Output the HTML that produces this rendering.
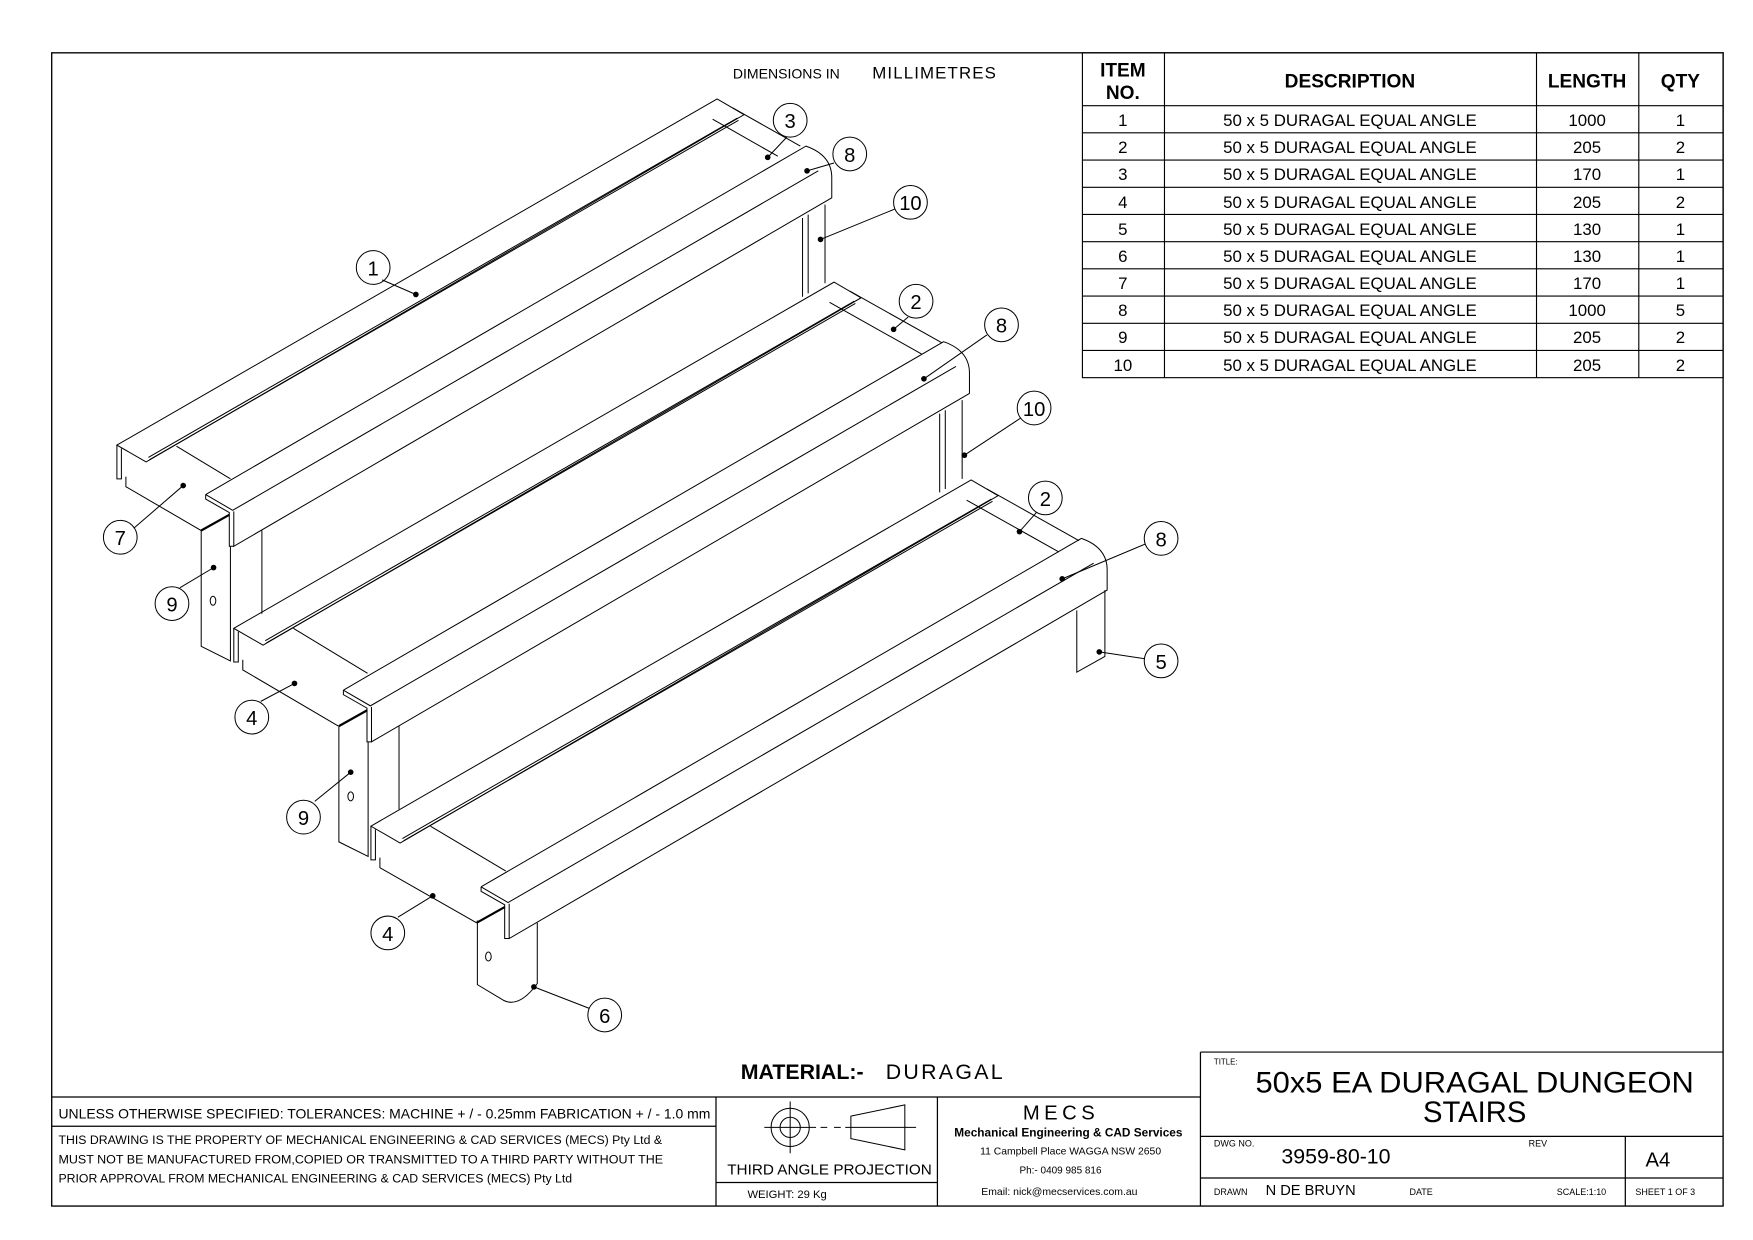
<!DOCTYPE html>
<html><head><meta charset="utf-8"><style>
html,body{margin:0;padding:0;background:#fff;}
svg{display:block;}
text{font-family:"Liberation Sans",sans-serif;fill:#000;}
</style></head><body>
<svg width="1753" height="1240" viewBox="0 0 1559.6 1103.2" xmlns="http://www.w3.org/2000/svg">
<defs>
<g id="front" fill="none" stroke="#000" stroke-width="0.9">
  <path d="M0,0 L534,-310 Q557,-302 557,-282 L557,-264 L25,46 L25,15"/>
  <path d="M0,0 L0,4 L21,16 L21,46 L25,46"/>
  <path d="M0,0 L24,14 L545,-288"/>
  <path d="M-4,32 L21,18" stroke-width="2"/>
</g>
<g id="back" fill="none" stroke="#000" stroke-width="0.9">
  <path d="M0,0 L534,-308 L558,-294 L26,15 Z"/>
  <path d="M0,0 L0,30 L4,30 L4,3"/>
  <path d="M28,11 L552,-291 M29,13 L553,-289"/>
</g>
</defs>
<rect x="46" y="47" width="1487" height="1026" fill="none" stroke="#000" stroke-width="1.2"/>

<text x="652" y="70" font-size="12.5">DIMENSIONS IN</text>
<text x="776" y="70" font-size="15" textLength="110">MILLIMETRES</text>

<g fill="none" stroke="#000" stroke-width="0.9">
  <!-- step 1 -->
  <use href="#back" transform="translate(104,396)"/>
  <path d="M112,424 L112,433 L179,472 M157,397 L205,426 M652,96 L712,130 M634,106 L692,139"/>
  <use href="#front" transform="translate(183,440)"/>
  <path d="M179,472 L179,575 L205,588 L205,486 M233,472 L233,546"/>
  <ellipse cx="189.5" cy="534.5" rx="2.5" ry="4"/>
  <path d="M714,194 L714,264 M719,191 L719,261 M734,182 L734,252"/>
  <!-- step 2 -->
  <use href="#back" transform="translate(208,559)"/>
  <path d="M216,587 L216,596 L301,646 M261,559 L327,599 M756,259 L838,305 M738,269 L820,315"/>
  <use href="#front" transform="translate(305.5,614)"/>
  <path d="M301.5,646 L301.5,749 L327.5,762 L327.5,660 M355,646 L355,720"/>
  <ellipse cx="312" cy="708.5" rx="2.5" ry="4"/>
  <path d="M836,368 L836,438 M841,365 L841,435 M856,356 L856,426"/>
  <!-- step 3 -->
  <use href="#back" transform="translate(330,735)"/>
  <path d="M338,763 L338,772 L424,821 M383,735 L450,775 M878,435 L960,481 M860,445 L942,491"/>
  <use href="#front" transform="translate(428,789)"/>
  <path d="M424.7,819 L424.7,876 L448,890 Q462,897 478,875 L478,821"/>
  <ellipse cx="434.5" cy="851" rx="2.5" ry="4"/>
  <path d="M958,543 L958,598 L983,584 L983,525"/>
</g>
<g fill="none" stroke="#000" stroke-width="0.9">
  <path d="M340,249 L370,262 M700,122 L683,140 M742,145 L718,152 M796,186 L730,213 M808,282 L795,293 M878,298 L822,337 M908,372 L858,405 M922,456 L907,473 M1019,484 L945,515 M1018,586 L978,580 M119,470 L163,432 M160,523 L190,505 M232,624 L262,608 M280,713 L312,687 M354,816 L385,797 M524,897 L475,878"/>
  <circle cx="332" cy="238" r="15"/><circle cx="703" cy="107" r="15"/><circle cx="756" cy="137" r="15"/><circle cx="810" cy="180" r="15"/><circle cx="815" cy="268" r="15"/><circle cx="891" cy="289" r="15"/><circle cx="920" cy="363" r="15"/><circle cx="930" cy="443" r="15"/><circle cx="1033" cy="479" r="15"/><circle cx="1033" cy="588" r="15"/><circle cx="107" cy="478" r="15"/><circle cx="153" cy="537" r="15"/><circle cx="224" cy="638" r="15"/><circle cx="270" cy="727" r="15"/><circle cx="345" cy="830" r="15"/><circle cx="538" cy="903" r="15"/>
</g>
<g fill="#000">
  <circle cx="370" cy="262" r="2.5"/><circle cx="683" cy="140" r="2.5"/><circle cx="718" cy="152" r="2.5"/><circle cx="730" cy="213" r="2.5"/><circle cx="795" cy="293" r="2.5"/><circle cx="822" cy="337" r="2.5"/><circle cx="858" cy="405" r="2.5"/><circle cx="907" cy="473" r="2.5"/><circle cx="945" cy="515" r="2.5"/><circle cx="978" cy="580" r="2.5"/><circle cx="163" cy="432" r="2.5"/><circle cx="190" cy="505" r="2.5"/><circle cx="262" cy="608" r="2.5"/><circle cx="312" cy="687" r="2.5"/><circle cx="385" cy="797" r="2.5"/><circle cx="475" cy="878" r="2.5"/>
</g>
<g font-size="18" text-anchor="middle">
  <text x="332" y="245">1</text><text x="703" y="114">3</text><text x="756" y="144">8</text><text x="810" y="187">10</text><text x="815" y="275">2</text><text x="891" y="296">8</text><text x="920" y="370">10</text><text x="930" y="450">2</text><text x="1033" y="486">8</text><text x="1033" y="595">5</text><text x="107" y="485">7</text><text x="153" y="544">9</text><text x="224" y="645">4</text><text x="270" y="734">9</text><text x="345" y="837">4</text><text x="538" y="910">6</text>
</g>

<g fill="none" stroke="#000" stroke-width="1">
  <rect x="963" y="47" width="570" height="289"/>
  <path d="M1036,47 V336 M1367,47 V336 M1458,47 V336 M963,94 H1533 M963,118.2 H1533 M963,142.4 H1533 M963,166.6 H1533 M963,190.8 H1533 M963,215 H1533 M963,239.2 H1533 M963,263.4 H1533 M963,287.6 H1533 M963,311.8 H1533"/>
</g>
<g font-weight="bold" font-size="17" text-anchor="middle">
  <text x="999" y="68">ITEM</text><text x="999" y="88">NO.</text>
  <text x="1201" y="78">DESCRIPTION</text><text x="1412" y="78">LENGTH</text><text x="1495" y="78">QTY</text>
</g>
<g font-size="15" text-anchor="middle">
  <text x="999" y="112">1</text><text x="999" y="136">2</text><text x="999" y="160">3</text><text x="999" y="185">4</text><text x="999" y="209">5</text><text x="999" y="233">6</text><text x="999" y="257">7</text><text x="999" y="281">8</text><text x="999" y="305">9</text><text x="999" y="330">10</text>
  <text x="1201" y="112">50 x 5 DURAGAL EQUAL ANGLE</text><text x="1201" y="136">50 x 5 DURAGAL EQUAL ANGLE</text><text x="1201" y="160">50 x 5 DURAGAL EQUAL ANGLE</text><text x="1201" y="185">50 x 5 DURAGAL EQUAL ANGLE</text><text x="1201" y="209">50 x 5 DURAGAL EQUAL ANGLE</text><text x="1201" y="233">50 x 5 DURAGAL EQUAL ANGLE</text><text x="1201" y="257">50 x 5 DURAGAL EQUAL ANGLE</text><text x="1201" y="281">50 x 5 DURAGAL EQUAL ANGLE</text><text x="1201" y="305">50 x 5 DURAGAL EQUAL ANGLE</text><text x="1201" y="330">50 x 5 DURAGAL EQUAL ANGLE</text>
  <text x="1412" y="112">1000</text><text x="1412" y="136">205</text><text x="1412" y="160">170</text><text x="1412" y="185">205</text><text x="1412" y="209">130</text><text x="1412" y="233">130</text><text x="1412" y="257">170</text><text x="1412" y="281">1000</text><text x="1412" y="305">205</text><text x="1412" y="330">205</text>
  <text x="1495" y="112">1</text><text x="1495" y="136">2</text><text x="1495" y="160">1</text><text x="1495" y="185">2</text><text x="1495" y="209">1</text><text x="1495" y="233">1</text><text x="1495" y="257">1</text><text x="1495" y="281">5</text><text x="1495" y="305">2</text><text x="1495" y="330">2</text>
</g>

<g fill="none" stroke="#000" stroke-width="1.1">
  <path d="M46,976 H1068 M1068,936 H1533 M1068,936 V1073 M637,976 V1073 M834,976 V1073 M46,1002 H637 M637,1052 H834 M1068,1011 H1533 M1068,1048 H1533 M1446,1011 V1073"/>
</g>
<text x="659" y="960" font-size="19" font-weight="bold">MATERIAL:-</text>
<text x="788" y="960" font-size="19" textLength="104">DURAGAL</text>
<text x="52" y="995" font-size="12" textLength="580" lengthAdjust="spacingAndGlyphs">UNLESS OTHERWISE SPECIFIED: TOLERANCES: MACHINE + / - 0.25mm  FABRICATION + / - 1.0 mm</text>
<text x="52" y="1018" font-size="11" textLength="537" lengthAdjust="spacingAndGlyphs">THIS DRAWING IS THE PROPERTY OF MECHANICAL ENGINEERING &amp; CAD SERVICES (MECS) Pty Ltd &amp;</text>
<text x="52" y="1035" font-size="11" textLength="538" lengthAdjust="spacingAndGlyphs">MUST NOT BE MANUFACTURED FROM,COPIED OR TRANSMITTED TO A THIRD PARTY WITHOUT THE</text>
<text x="52" y="1052" font-size="11" textLength="457" lengthAdjust="spacingAndGlyphs">PRIOR APPROVAL FROM MECHANICAL ENGINEERING &amp; CAD SERVICES (MECS) Pty Ltd</text>
<g fill="none" stroke="#000" stroke-width="0.9">
  <circle cx="703" cy="1003" r="17"/><circle cx="703" cy="1003" r="9"/>
  <path d="M680,1003 H726 M703,980 V1026 M730,1003 H736 M742,1003 H748 M752,1003 H815 M757,993 L805,983 V1023 L757,1013 Z"/>
</g>
<text x="647" y="1045" font-size="13" textLength="182" lengthAdjust="spacingAndGlyphs">THIRD ANGLE PROJECTION</text>
<text x="665" y="1066" font-size="10">WEIGHT:  29 Kg</text>
<text x="944" y="996" font-size="18" text-anchor="middle" letter-spacing="4">MECS</text>
<text x="849" y="1011" font-size="11" font-weight="bold" textLength="203" lengthAdjust="spacingAndGlyphs">Mechanical Engineering &amp; CAD Services</text>
<text x="872" y="1027" font-size="9" textLength="161" lengthAdjust="spacingAndGlyphs">11 Campbell Place WAGGA NSW 2650</text>
<text x="907" y="1044" font-size="9" textLength="73" lengthAdjust="spacingAndGlyphs">Ph:- 0409 985 816</text>
<text x="873" y="1063" font-size="9" textLength="139" lengthAdjust="spacingAndGlyphs">Email: nick@mecservices.com.au</text>
<text x="1080" y="947" font-size="7">TITLE:</text>
<text x="1312" y="972" font-size="26" text-anchor="middle" textLength="390" lengthAdjust="spacingAndGlyphs">50x5 EA DURAGAL DUNGEON</text>
<text x="1312" y="998" font-size="26" text-anchor="middle">STAIRS</text>
<text x="1080" y="1020" font-size="8">DWG NO.</text>
<text x="1140" y="1035" font-size="19">3959-80-10</text>
<text x="1360" y="1020" font-size="8">REV</text>
<text x="1475" y="1038" font-size="18" text-anchor="middle">A4</text>
<text x="1080" y="1063" font-size="8">DRAWN</text>
<text x="1126" y="1063" font-size="13">N DE BRUYN</text>
<text x="1254" y="1063" font-size="8">DATE</text>
<text x="1385" y="1063" font-size="8">SCALE:1:10</text>
<text x="1455" y="1063" font-size="8">SHEET 1 OF 3</text>
</svg>
</body></html>
